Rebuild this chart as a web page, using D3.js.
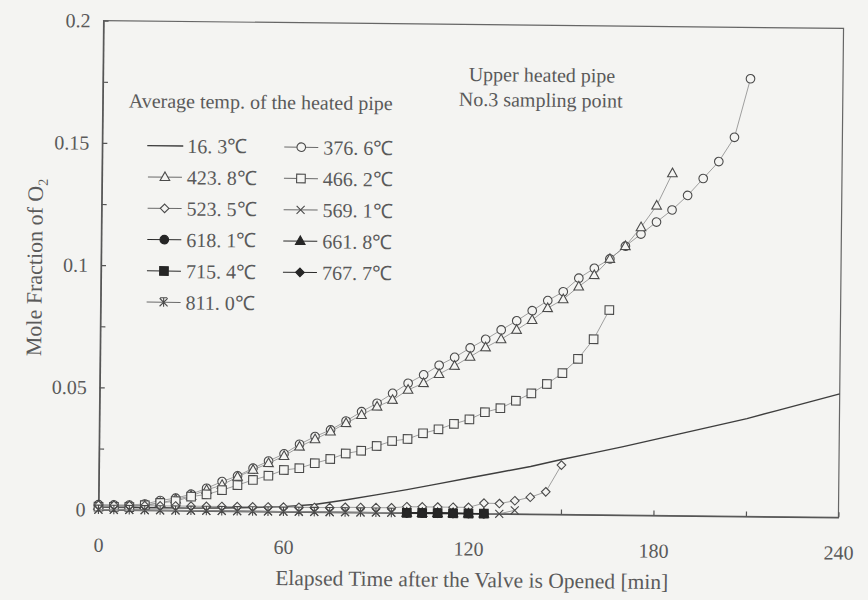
<!DOCTYPE html>
<html>
<head>
<meta charset="utf-8">
<script src="https://cdn.jsdelivr.net/npm/d3@7"></script>
<style>
  html, body { margin: 0; padding: 0; background: #f4f4f2; }
  svg { display: block; }
  text { font-family: "Liberation Serif", "Times New Roman", serif; fill: #5a5a5a; }
</style>
</head>
<body>
<svg id="chart" width="868" height="600"></svg>
<script>
// Sampling times after the valve is opened [min]
const minutes = [0,5,10,15,20,25,30,35,40,45,50,55,60,65,70,75,80,85,90,95,100,105,110,115,120,
                 125,130,135,140,145,150,155,160,165,170,175,180,185,190,195,200,205,210,215,220,
                 225,230,235,240];
// Continuous record for the unheated pipe (10 min grid)
const lineMinutes = [0,10,20,30,40,50,60,70,80,90,100,110,120,130,140,150,160,170,180,190,200,210,220,230,240];

// Mole fraction of O2 for each average pipe temperature
const o2_16_3  = [0.001,0.001,0.001,0.001,0.0012,0.0015,0.002,0.003,0.005,0.0072,0.0095,0.012,0.0145,
                  0.017,0.0195,0.0225,0.0252,0.028,0.031,0.034,0.037,0.040,0.0435,0.047,0.0505];
const o2_376_6 = [0.002,0.002,0.002,0.0025,0.004,0.005,0.0067,0.0092,0.012,0.0144,0.0176,0.0206,0.0236,
                  0.0276,0.0308,0.0336,0.0373,0.0412,0.0447,0.0488,0.053,0.0565,0.0605,0.0638,0.0677,
                  0.0713,0.0752,0.079,0.0832,0.0874,0.0911,0.0967,0.1008,0.1047,0.110,0.115,0.120,
                  0.125,0.131,0.138,0.145,0.155,0.179];
const o2_423_8 = [0.0015,0.0015,0.0015,0.002,0.003,0.0045,0.006,0.0085,0.0106,0.014,0.0169,0.0197,0.0227,
                  0.0266,0.0297,0.0329,0.0364,0.0398,0.0433,0.0461,0.0503,0.0531,0.0569,0.0603,0.0641,
                  0.068,0.0714,0.0753,0.0794,0.0843,0.088,0.0933,0.098,0.1047,0.110,0.1178,0.1267,0.140];
const o2_466_2 = [0.0012,0.0012,0.0012,0.002,0.003,0.0038,0.0057,0.0067,0.0085,0.0106,0.0128,0.0146,0.017,
                  0.0178,0.0199,0.0217,0.024,0.0252,0.0272,0.0293,0.0302,0.0326,0.0343,0.0366,0.0385,
                  0.0415,0.0432,0.0463,0.0494,0.0533,0.0578,0.0637,0.0718,0.0838];
const o2_523_5 = [0.0018,0.0018,0.0018,0.0018,0.0018,0.0018,0.0018,0.0018,0.0018,0.0018,0.0018,0.0018,
                  0.0018,0.0018,0.0018,0.0018,0.002,0.002,0.002,0.002,0.0025,0.0025,0.0025,0.0025,0.0025,
                  0.0043,0.0042,0.0054,0.0069,0.0092,0.0202];
const o2_569_1 = [0,0,0,0,0,0,0,0,0,0,0,0,0,0,0,0,0,0,0,0,0,0,0,0,0,0,0,0.0015];
const o2_618_1 = [0,0,0,0,0,0];
const o2_661_8 = [0,0,0,0,0,0];
const o2_715_4 = [0,0,0,0,0,0];
const o2_767_7 = [0,0,0,0,0,0];
const o2_811_0 = [0,0,0,0,0,0,0,0,0,0,0,0,0,0,0,0,0,0,0,0];

// Axis ticks
const xTicks = [0,30,60,90,120,150,180,210,240];
const xTickLabels = ["0","","60","","120","","180","","240"];
const yTicks = [0,0.025,0.05,0.075,0.1,0.125,0.15,0.175,0.2];
const yTickLabels = ["0","","0.05","","0.1","","0.15","","0.2"];

// Series: first sample time, values, marker
const series = [
  { label: "376. 6℃", from: 0,   values: o2_376_6, marker: "circle",   filled: false },
  { label: "423. 8℃", from: 0,   values: o2_423_8, marker: "triangle", filled: false },
  { label: "466. 2℃", from: 0,   values: o2_466_2, marker: "square",   filled: false },
  { label: "523. 5℃", from: 0,   values: o2_523_5, marker: "diamond",  filled: false },
  { label: "569. 1℃", from: 0,   values: o2_569_1, marker: "x",        filled: false },
  { label: "618. 1℃", from: 100, values: o2_618_1, marker: "circle",   filled: true },
  { label: "661. 8℃", from: 100, values: o2_661_8, marker: "triangle", filled: true },
  { label: "715. 4℃", from: 100, values: o2_715_4, marker: "square",   filled: true },
  { label: "767. 7℃", from: 100, values: o2_767_7, marker: "diamond",  filled: true },
  { label: "811. 0℃", from: 0,   values: o2_811_0, marker: "star",     filled: false }
];

const bg = "#f4f4f2";
const ink = "#4a4a4a";
const plot = { left: 101, right: 841, top: 24.5, bottom: 513.5 };

const svg = d3.select("#chart");
svg.append("rect").attr("width", 868).attr("height", 600).attr("fill", bg);

// the whole sheet sits slightly turned
const root = svg.append("g").attr("transform", "rotate(0.6 471 269)");

const x = d3.scaleLinear().domain([0, 240]).range([plot.left, plot.right]);
const y = d3.scaleLinear().domain([0, 0.2]).range([plot.bottom, plot.top]);

// frame
root.append("rect")
  .attr("x", plot.left).attr("y", plot.top)
  .attr("width", plot.right - plot.left).attr("height", plot.bottom - plot.top)
  .attr("fill", "none").attr("stroke", "#666").attr("stroke-width", 1.2);

// axes with inward ticks
const xAxis = d3.axisBottom(x).tickValues(xTicks).tickSize(-5).tickSizeOuter(0).tickPadding(28)
  .tickFormat((d, i) => xTickLabels[i]);
const yAxis = d3.axisLeft(y).tickValues(yTicks).tickSize(-5).tickSizeOuter(0).tickPadding(13)
  .tickFormat((d, i) => yTickLabels[i]);

const gx = root.append("g").attr("transform", `translate(0,${plot.bottom})`).call(xAxis);
const gy = root.append("g").attr("transform", `translate(${plot.left},0)`).call(yAxis);
[gx, gy].forEach(g => {
  g.attr("font-family", null);
  g.select(".domain").attr("stroke", "#555").attr("stroke-width", 1.3);
  g.selectAll(".tick line").attr("stroke", "#555").attr("stroke-width", 1.2);
  g.selectAll(".tick text").attr("font-size", 20).attr("fill", "#5a5a5a");
});

// marker shapes
function markerPath(kind) {
  const p = d3.path();
  switch (kind) {
    case "circle": p.moveTo(4.3, 0); p.arc(0, 0, 4.3, 0, 2 * Math.PI); break;
    case "triangle": p.moveTo(0, -5.2); p.lineTo(4.8, 3.4); p.lineTo(-4.8, 3.4); p.closePath(); break;
    case "square": p.rect(-4.3, -4.3, 8.6, 8.6); break;
    case "diamond": p.moveTo(0, -4.3); p.lineTo(4.3, 0); p.lineTo(0, 4.3); p.lineTo(-4.3, 0); p.closePath(); break;
    case "x": p.moveTo(-4, -4); p.lineTo(4, 4); p.moveTo(4, -4); p.lineTo(-4, 4); break;
    case "star": p.moveTo(-4, -4); p.lineTo(4, 4); p.moveTo(4, -4); p.lineTo(-4, 4);
                 p.moveTo(-3.5, -4.5); p.lineTo(3.5, -4.5); p.moveTo(0, -4.5); p.lineTo(0, 4.5); break;
  }
  return p.toString();
}
function drawMarker(g, s, cx, cy) {
  const open = s.marker === "x" || s.marker === "star";
  g.append("path")
    .attr("d", markerPath(s.marker))
    .attr("transform", `translate(${cx},${cy})`)
    .attr("fill", open ? "none" : (s.filled ? "#262626" : bg))
    .attr("stroke", s.filled ? "#262626" : ink)
    .attr("stroke-width", 1.1);
}

const plotG = root.append("g");

// unheated pipe: continuous line
const line = d3.line().x(d => x(d[0])).y(d => y(d[1]));
plotG.append("path")
  .datum(lineMinutes.map((m, i) => [m, o2_16_3[i]]))
  .attr("d", line)
  .attr("fill", "none").attr("stroke", "#3e3e3e").attr("stroke-width", 1.4);

// heated pipe series
series.forEach(s => {
  const start = minutes.indexOf(s.from);
  const pts = s.values.map((v, i) => [minutes[start + i], v]);
  const g = plotG.append("g");
  g.append("path").datum(pts).attr("d", line)
    .attr("fill", "none")
    .attr("stroke", s.filled ? "#2a2a2a" : "#8a8a8a")
    .attr("stroke-width", s.filled ? 1.2 : 0.8);
  pts.forEach(p => drawMarker(g, s, x(p[0]), y(p[1])));
});

// legend
const leg = root.append("g");
leg.append("text").attr("x", 127).attr("y", 111).attr("font-size", 20)
  .text("Average temp. of the heated pipe");

const legendItems = [{ label: "16. 3℃", marker: "line" }].concat(series);
const rowY0 = 149, rowStep = 31.3;
const colMark = [164, 300], colText = [186, 322];
legendItems.forEach((s, i) => {
  const col = i % 2, row = Math.floor(i / 2);
  const cy = rowY0 + row * rowStep;
  const mx = colMark[col];
  const g = leg.append("g");
  if (s.marker === "line") {
    g.append("line").attr("x1", mx - 18).attr("x2", mx + 18).attr("y1", cy).attr("y2", cy)
      .attr("stroke", "#3e3e3e").attr("stroke-width", 1.4);
  } else {
    g.append("line").attr("x1", mx - 17).attr("x2", mx + 17).attr("y1", cy).attr("y2", cy)
      .attr("stroke", s.filled ? "#2a2a2a" : "#6a6a6a").attr("stroke-width", 1);
    drawMarker(g, s, mx, cy);
  }
  g.append("text").attr("x", colText[col]).attr("y", cy + 7).attr("font-size", 20)
    .text(s.label);
});

// location note
root.append("text").attr("x", 540).attr("y", 81).attr("font-size", 20).attr("text-anchor", "middle")
  .text("Upper heated pipe");
root.append("text").attr("x", 539).attr("y", 106).attr("font-size", 20).attr("text-anchor", "middle")
  .text("No.3 sampling point");

// axis titles
root.append("text").attr("x", (plot.left + plot.right) / 2 + 4).attr("y", 587).attr("font-size", 21.5)
  .attr("text-anchor", "middle").text("Elapsed Time after the Valve is Opened [min]");
const yt = root.append("text").attr("transform", "translate(42,272) rotate(-90)")
  .attr("font-size", 22).attr("text-anchor", "middle");
yt.append("tspan").text("Mole Fraction of O");
yt.append("tspan").attr("font-size", 14).attr("dy", 5).text("2");
</script>
</body>
</html>
